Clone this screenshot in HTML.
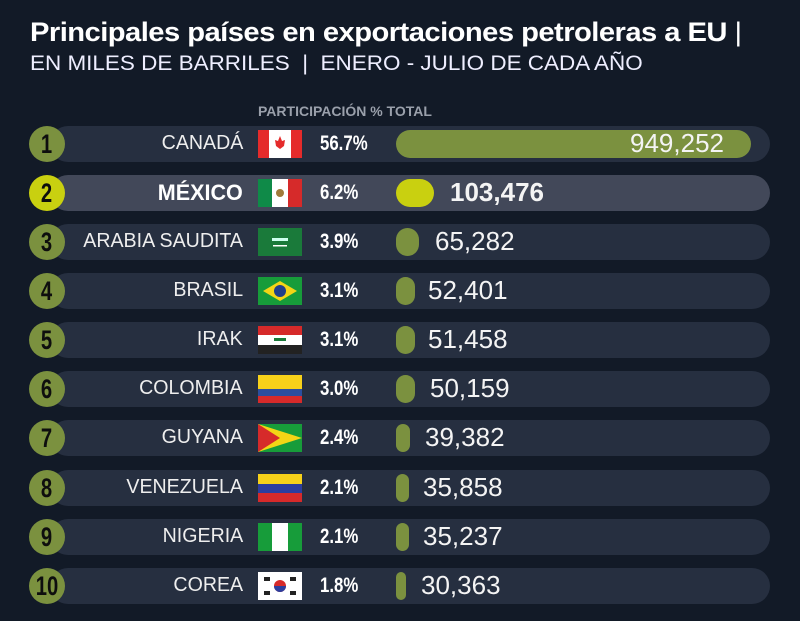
<!DOCTYPE html>
<html><head><meta charset="utf-8"><style>
*{margin:0;padding:0;box-sizing:border-box}
body{width:800px;height:621px;background:#121a27;position:relative;overflow:hidden;font-family:"Liberation Sans",sans-serif;color:#fff}
.t1{position:absolute;left:30px;top:17px;font-size:27px;font-weight:bold;letter-spacing:-0.5px;transform:scaleX(1.08);transform-origin:left;white-space:nowrap}
.t2{position:absolute;left:30px;top:52px;font-size:21px;transform:scaleX(1.07);transform-origin:left;color:#eef;white-space:nowrap}
.hd{position:absolute;left:258px;top:103px;font-size:14px;font-weight:bold;color:#9aa0ab;white-space:nowrap}
.row{position:absolute;left:0;width:800px;height:36px}
.band{position:absolute;left:50px;width:720px;top:0;height:36px;border-radius:18px;background:#262f40}
.mx .band{background:#424859}
.c{position:absolute;left:29px;top:0;width:36px;height:36px;border-radius:50%;background:#7b913f;color:#0e0e0e;font-weight:bold;font-size:27px;text-align:center;line-height:36px}
.c span{display:inline-block;transform:scaleX(0.75)}
.mx .c{background:#c9d010}
.nm{position:absolute;right:557px;top:6px;font-size:20px;color:#eee;white-space:nowrap;transform:scaleX(0.98);transform-origin:right}
.mx .nm{font-weight:bold;font-size:22px;color:#fff;top:5px}
.fl{position:absolute;left:258px;top:4px;width:44px;height:28px;overflow:hidden}
.pc{position:absolute;left:320px;top:6px;font-size:21px;font-weight:bold;transform:scaleX(0.8);transform-origin:left}
.bar{position:absolute;left:396px;top:4px;height:28px;border-radius:14px;background:#7b913f}
.mx .bar{background:#c9d010}
.v{position:absolute;top:2px;font-size:26px;color:#f4f4f4}
.mx .v{font-weight:bold}
</style></head><body>
<div class="t1">Principales países en exportaciones petroleras a EU <span style="font-weight:normal">|</span></div>
<div class="t2">EN MILES DE BARRILES &nbsp;|&nbsp; ENERO - JULIO DE CADA AÑO</div>
<div class="hd">PARTICIPACIÓN % TOTAL</div>

<div class="row" style="top:126px"><div class="band"></div><div class="c"><span>1</span></div><div class="nm">CANADÁ</div>
<div class="fl"><svg width="44" height="28"><rect width="44" height="28" fill="#fff"/><rect width="11" height="28" fill="#e52b2b"/><rect x="33" width="11" height="28" fill="#e52b2b"/><path d="M22 6 L24 11 L27 10 L26 16 L22 19 L18 16 L17 10 L20 11Z" fill="#e52b2b"/></svg></div>
<div class="pc">56.7%</div><div class="bar" style="width:355px"></div><div class="v" style="left:630px">949,252</div></div>

<div class="row mx" style="top:175px"><div class="band"></div><div class="c"><span>2</span></div><div class="nm">MÉXICO</div>
<div class="fl"><svg width="44" height="28"><rect width="44" height="28" fill="#fff"/><rect width="14" height="28" fill="#0f8a48"/><rect x="30" width="14" height="28" fill="#d62a2a"/><circle cx="22" cy="14" r="4" fill="#a07a3a"/></svg></div>
<div class="pc">6.2%</div><div class="bar" style="width:38px"></div><div class="v" style="left:450px">103,476</div></div>

<div class="row" style="top:224px"><div class="band"></div><div class="c"><span>3</span></div><div class="nm">ARABIA SAUDITA</div>
<div class="fl"><svg width="44" height="28"><rect width="44" height="28" fill="#1a7a3a"/><rect x="14" y="10" width="16" height="3" fill="#cfe"/><rect x="15" y="17" width="14" height="1.5" fill="#fff"/></svg></div>
<div class="pc">3.9%</div><div class="bar" style="width:23px"></div><div class="v" style="left:435px">65,282</div></div>

<div class="row" style="top:273px"><div class="band"></div><div class="c"><span>4</span></div><div class="nm">BRASIL</div>
<div class="fl"><svg width="44" height="28"><rect width="44" height="28" fill="#179c3a"/><path d="M22 4 L39 14 L22 24 L5 14Z" fill="#f3d516"/><circle cx="22" cy="14" r="6" fill="#213f8a"/></svg></div>
<div class="pc">3.1%</div><div class="bar" style="width:19px"></div><div class="v" style="left:428px">52,401</div></div>

<div class="row" style="top:322px"><div class="band"></div><div class="c"><span>5</span></div><div class="nm">IRAK</div>
<div class="fl"><svg width="44" height="28"><rect width="44" height="28" fill="#fff"/><rect width="44" height="9" fill="#d62a2a"/><rect y="19" width="44" height="9" fill="#222"/><rect x="16" y="12" width="12" height="3" fill="#1a7a3a"/></svg></div>
<div class="pc">3.1%</div><div class="bar" style="width:19px"></div><div class="v" style="left:428px">51,458</div></div>

<div class="row" style="top:371px"><div class="band"></div><div class="c"><span>6</span></div><div class="nm">COLOMBIA</div>
<div class="fl"><svg width="44" height="28"><rect width="44" height="14" fill="#f7d11a"/><rect y="14" width="44" height="7" fill="#2c4e9e"/><rect y="21" width="44" height="7" fill="#d62a2a"/></svg></div>
<div class="pc">3.0%</div><div class="bar" style="width:19px"></div><div class="v" style="left:430px">50,159</div></div>

<div class="row" style="top:420px"><div class="band"></div><div class="c"><span>7</span></div><div class="nm">GUYANA</div>
<div class="fl"><svg width="44" height="28"><rect width="44" height="28" fill="#179c3a"/><path d="M0 0 L44 14 L0 28Z" fill="#f3d516"/><path d="M0 0 L22 14 L0 28Z" fill="#d62a2a"/></svg></div>
<div class="pc">2.4%</div><div class="bar" style="width:14px"></div><div class="v" style="left:425px">39,382</div></div>

<div class="row" style="top:470px"><div class="band"></div><div class="c"><span>8</span></div><div class="nm">VENEZUELA</div>
<div class="fl"><svg width="44" height="28"><rect width="44" height="10" fill="#f7d11a"/><rect y="10" width="44" height="9" fill="#2c3e9e"/><rect y="19" width="44" height="9" fill="#d62a2a"/></svg></div>
<div class="pc">2.1%</div><div class="bar" style="width:13px"></div><div class="v" style="left:423px">35,858</div></div>

<div class="row" style="top:519px"><div class="band"></div><div class="c"><span>9</span></div><div class="nm">NIGERIA</div>
<div class="fl"><svg width="44" height="28"><rect width="44" height="28" fill="#fff"/><rect width="14" height="28" fill="#179c3a"/><rect x="30" width="14" height="28" fill="#179c3a"/></svg></div>
<div class="pc">2.1%</div><div class="bar" style="width:13px"></div><div class="v" style="left:423px">35,237</div></div>

<div class="row" style="top:568px"><div class="band"></div><div class="c"><span>10</span></div><div class="nm">COREA</div>
<div class="fl"><svg width="44" height="28"><rect width="44" height="28" fill="#fff"/><circle cx="22" cy="14" r="6" fill="#d62a2a"/><path d="M16 14 A6 6 0 0 0 28 14Z" fill="#2c3e9e"/><rect x="6" y="5" width="6" height="4" fill="#222"/><rect x="32" y="5" width="6" height="4" fill="#222"/><rect x="6" y="19" width="6" height="4" fill="#222"/><rect x="32" y="19" width="6" height="4" fill="#222"/></svg></div>
<div class="pc">1.8%</div><div class="bar" style="width:10px"></div><div class="v" style="left:421px">30,363</div></div>
</body></html>
